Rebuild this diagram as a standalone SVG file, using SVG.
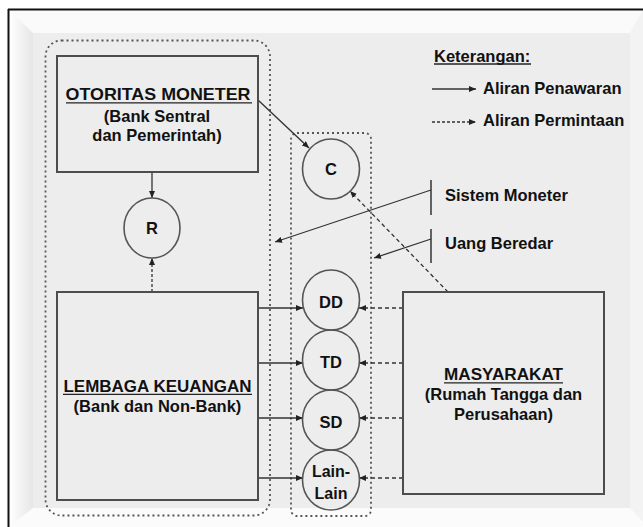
<svg xmlns="http://www.w3.org/2000/svg" width="643" height="527" viewBox="0 0 643 527">
<defs>
<marker id="ah" markerUnits="userSpaceOnUse" markerWidth="8" markerHeight="6" refX="7" refY="3" orient="auto">
<path d="M0,0 L7,3 L0,6 z" fill="#222"/>
</marker>
<linearGradient id="lg" x1="0" y1="0" x2="1" y2="0">
<stop offset="0" stop-color="#ffffff"/>
<stop offset="1" stop-color="#e6e6e6"/>
</linearGradient>
</defs>
<style>
.t{font-family:"Liberation Sans",Arial,sans-serif;font-weight:bold;font-size:16.5px;fill:#111}
.m{text-anchor:middle}
.box{fill:none;stroke:#4d4d4d;stroke-width:2}
.cir{fill:none;stroke:#555;stroke-width:1.6}
.grp{fill:none;stroke:#555;stroke-width:1.8;stroke-dasharray:2 3}
.sol{fill:none;stroke:#333;stroke-width:1.3;marker-end:url(#ah)}
.dsh{fill:none;stroke:#333;stroke-width:1.3;stroke-dasharray:4 3;marker-end:url(#ah)}
.bar{stroke:#333;stroke-width:1.5}
.ul{stroke:#222;stroke-width:1.3}
</style>
<rect width="643" height="527" fill="#ffffff"/>
<g id="frame">
<rect x="9" y="10" width="634" height="517" fill="#f6f6f6"/>
<polygon points="9,10 643,10 630,33 33,33" fill="#fafafa"/>
<polygon points="9,10 33,33 33,508 9,527" fill="url(#lg)"/>
<polygon points="643,10 643,522 630,508 630,33" fill="#f3f3f3"/>
<polygon points="9,527 33,508 630,508 643,522 643,527" fill="#fbfbfb"/>
<rect x="33" y="33" width="597" height="475" fill="#ededed"/>
<line x1="8" y1="9.5" x2="643" y2="9.5" stroke="#111" stroke-width="2"/>
<line x1="8.5" y1="9" x2="8.5" y2="527" stroke="#111" stroke-width="2"/>
</g>
<g id="group-left"><rect class="grp" x="45.5" y="40.5" width="224.5" height="475" rx="16"/></g>
<g id="group-middle"><rect class="grp" x="291" y="133" width="80" height="383" rx="6"/></g>
<g id="connectors">
<line class="sol" x1="152" y1="172" x2="152" y2="198"/>
<line class="dsh" style="stroke-dasharray:3 2" x1="152" y1="292" x2="152" y2="258"/>
<line class="sol" x1="258" y1="100" x2="309" y2="148"/>
<line class="sol" x1="258" y1="308" x2="303" y2="308"/>
<line class="sol" x1="258" y1="363" x2="303" y2="363"/>
<line class="sol" x1="258" y1="418" x2="303" y2="418"/>
<line class="sol" x1="258" y1="478" x2="303" y2="478"/>
<line class="dsh" x1="403" y1="308" x2="359" y2="308"/>
<line class="dsh" x1="403" y1="363" x2="359" y2="363"/>
<line class="dsh" x1="403" y1="418" x2="359" y2="418"/>
<line class="dsh" x1="403" y1="478" x2="359" y2="478"/>
<line class="dsh" x1="448" y1="292" x2="350" y2="191"/>
<line class="sol" x1="431" y1="190" x2="275" y2="242"/>
<line class="sol" x1="431" y1="239" x2="374" y2="258"/>
<line class="bar" x1="431" y1="180" x2="431" y2="215"/>
<line class="bar" x1="431" y1="229" x2="431" y2="263"/>
<line class="sol" x1="432" y1="89" x2="476" y2="89"/>
<line class="dsh" style="stroke-dasharray:3 2" x1="432" y1="122" x2="476" y2="122"/>
</g>
<g id="otoritas">
<rect class="box" x="57" y="56" width="201" height="116"/>
<text class="t m" x="158" y="100" textLength="185" lengthAdjust="spacingAndGlyphs">OTORITAS MONETER</text>
<line class="ul" x1="66" y1="102.8" x2="252" y2="102.8"/>
<text class="t m" x="157" y="121.5">(Bank Sentral</text>
<text class="t m" x="157" y="141">dan Pemerintah)</text>
</g>
<g id="lembaga">
<rect class="box" x="57" y="292" width="201" height="208"/>
<text class="t m" x="157.5" y="391.5" textLength="188" lengthAdjust="spacingAndGlyphs">LEMBAGA KEUANGAN</text>
<line class="ul" x1="63" y1="394.3" x2="252" y2="394.3"/>
<text class="t m" x="157.5" y="412">(Bank dan Non-Bank)</text>
</g>
<g id="masyarakat">
<rect class="box" x="403" y="292" width="201" height="202"/>
<text class="t m" x="503.5" y="380" textLength="119" lengthAdjust="spacingAndGlyphs">MASYARAKAT</text>
<line class="ul" x1="444" y1="382.8" x2="563" y2="382.8"/>
<text class="t m" x="503.5" y="400">(Rumah Tangga dan</text>
<text class="t m" x="503.5" y="420">Perusahaan)</text>
</g>
<g id="node-r"><ellipse class="cir" cx="152" cy="228" rx="28" ry="30"/><text class="t m" x="152" y="234">R</text></g>
<g id="node-c"><ellipse class="cir" cx="331" cy="169" rx="28.5" ry="30"/><text class="t m" x="331" y="175">C</text></g>
<g id="node-dd"><ellipse class="cir" cx="331" cy="300" rx="28.5" ry="30"/><text class="t m" x="331" y="307.5">DD</text></g>
<g id="node-td"><ellipse class="cir" cx="331" cy="360" rx="28.5" ry="30"/><text class="t m" x="331" y="368">TD</text></g>
<g id="node-sd"><ellipse class="cir" cx="331" cy="420" rx="28.5" ry="30"/><text class="t m" x="331" y="427.5">SD</text></g>
<g id="node-lain"><ellipse class="cir" cx="331" cy="480" rx="28.5" ry="30"/><text class="t m" x="331" y="476.5" style="font-size:16px">Lain-</text><text class="t m" x="331" y="499" style="font-size:16px">Lain</text></g>
<g id="labels">
<text class="t" x="445" y="200.5">Sistem Moneter</text>
<text class="t" x="445" y="249">Uang Beredar</text>
</g>
<g id="legend">
<text class="t" x="434" y="61.5">Keterangan:</text>
<line class="ul" x1="434" y1="64" x2="531" y2="64"/>
<text class="t" x="483" y="94">Aliran Penawaran</text>
<text class="t" x="483" y="126">Aliran Permintaan</text>
</g>
</svg>
